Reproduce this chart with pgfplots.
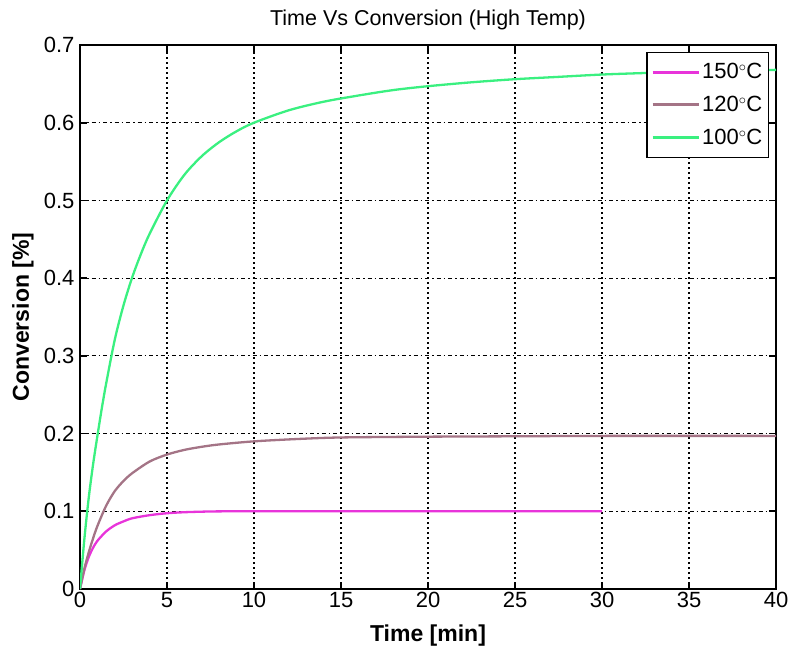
\documentclass[border=0pt]{standalone}
\usepackage{fontspec}
\setmainfont{Liberation Sans}
\usepackage{pgfplots}
\pgfplotsset{compat=1.18}

\definecolor{cHigh}{RGB}{232,52,218}
\definecolor{cMid}{RGB}{164,116,134}
\definecolor{cLow}{RGB}{58,240,128}

\begin{document}
\begin{tikzpicture}
\path[use as bounding box] (-80pt,-58pt) rectangle (711pt,589pt);
\begin{axis}[
  at={(0pt,0pt)}, anchor=south west,
  scale only axis, width=696pt, height=544pt,
  xmin=0, xmax=40, ymin=0, ymax=0.7,
  xtick={0,5,10,15,20,25,30,35,40},
  ytick={0,0.1,0.2,0.3,0.4,0.5,0.6,0.7},
  xticklabels={0,5,10,15,20,25,30,35,40},
  yticklabels={0,0.1,0.2,0.3,0.4,0.5,0.6,0.7},
  xtick pos=both, ytick pos=both,
  xticklabel pos=lower, yticklabel pos=left,
  tick align=inside,
  major tick length=7pt,
  tick style={black, line width=1.6pt},
  axis line style={black, line width=2.6pt},
  ticklabel style={font=\fontsize{22}{24}\selectfont},
  yticklabel style={xshift=-2pt},
  grid=major,
  x grid style={black, line width=1.1pt, dash pattern=on 2pt off 3pt},
  y grid style={black, line width=1.1pt, dash pattern=on 4pt off 3pt on 1.5pt off 3pt},
  title={Time Vs Conversion (High Temp)},
  title style={font=\fontsize{21.5}{24}\selectfont, at={(axis description cs:0.5,1.0257)}, anchor=base, yshift=0pt},
  xlabel={\bfseries Time [min]},
  ylabel={\bfseries Conversion [\%]},
  xlabel style={font=\fontsize{23}{26}\selectfont, at={(axis description cs:0.5,-0.0956)}, anchor=base},
  ylabel style={font=\fontsize{23}{26}\selectfont, at={(axis description cs:-0.0733,0.5)}, anchor=base},
  legend style={at={(axis description cs:0.9899,0.9871)}, anchor=north east,
    draw=black, line width=1.2pt, fill=white,
    font=\fontsize{22}{24}\selectfont,
    inner xsep=4pt, inner ysep=9pt, row sep=12pt},
  legend cell align=left,
  legend image code/.code={\draw[#1, line width=3pt] (0pt,0pt) -- (46pt,0pt);},
  every axis plot/.append style={line width=2.3pt, smooth, tension=0.5},
]
% 150 C run (stopped at 30 min)
\addplot[cHigh] coordinates {
  (0,0) (0.25,0.024) (0.5,0.041) (0.75,0.053) (1,0.062) (1.5,0.074)
  (2,0.082) (2.5,0.087) (3,0.091) (4,0.095) (5,0.0975) (6,0.0988)
  (7,0.0995) (8,0.0999) (10,0.1) (15,0.1) (20,0.1) (25,0.1) (30,0.1)
};
\addlegendentry{150$^\circ$C}
% 120 C run
\addplot[cMid] coordinates {
  (0,0) (0.25,0.026) (0.5,0.047) (0.75,0.065) (1,0.081) (1.5,0.107)
  (2,0.126) (2.5,0.139) (3,0.149) (4,0.164) (5,0.173) (6,0.179)
  (7,0.183) (8,0.186) (10,0.190) (12.5,0.193) (15,0.195) (20,0.196)
  (25,0.1965) (30,0.197) (40,0.197)
};
\addlegendentry{120$^\circ$C}
% 100 C run
\addplot[cLow] coordinates {
  (0,0) (0.25,0.064) (0.5,0.117) (0.75,0.160) (1,0.197) (1.25,0.232)
  (1.5,0.264) (2,0.321) (2.5,0.365) (3,0.401) (3.5,0.431) (4,0.457)
  (5,0.500) (6,0.533) (7,0.557) (8,0.575) (9,0.589) (10,0.600)
  (12,0.616) (14,0.627) (16,0.635) (18,0.642) (20,0.647) (22.5,0.652)
  (25,0.656) (27.5,0.659) (30,0.662) (32.5,0.664) (35,0.666)
  (37.5,0.667) (40,0.668)
};
\addlegendentry{100$^\circ$C}
\end{axis}
\end{tikzpicture}
\end{document}
